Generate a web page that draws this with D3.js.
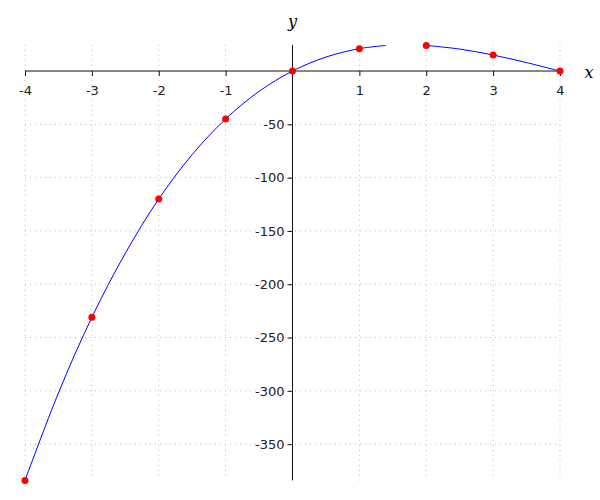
<!DOCTYPE html>
<html><head><meta charset="utf-8">
<script src="https://cdn.jsdelivr.net/npm/d3@7"></script>
<style>body{margin:0;background:#fff}svg{display:block}</style>
</head><body>
<svg id="c" width="600" height="500"></svg>
<script>
const xTicks = [-4,-3,-2,-1,1,2,3,4];
const yTicks = [-350,-300,-250,-200,-150,-100,-50];
const pointX = [-4,-3,-2,-1,0,1,2,3,4];
const pointY = [-384,-231,-120,-45,0,21,24,15,0];
const curve1X = [-4,-3.5,-3,-2.5,-2,-1.5,-1,-0.5,0,0.5,1,1.4];
const curve1Y = [-384,-302,-231,-171,-120,-78.4,-45,-19.1,0,13.1,21,24];
const curve2X = [2,2.5,3,3.5,4];
const curve2Y = [24,20.6,15,7.9,0];

const svg = d3.select("#c");
const x = d3.scaleLinear().domain([-4,4]).range([25,560]);
const y = d3.scaleLinear().domain([-384,24.6]).range([480.4,44.8]);

// grid
const g = svg.append("g");
g.selectAll(".vg").data(xTicks).enter().append("line")
  .attr("x1",d=>x(d)).attr("x2",d=>x(d)).attr("y1",y(24.6)).attr("y2",y(-384))
  .attr("stroke","#bbb").attr("stroke-width",1).attr("stroke-dasharray","1,4");
g.selectAll(".hg").data(yTicks).enter().append("line")
  .attr("x1",x(-4)).attr("x2",x(4)).attr("y1",d=>y(d)).attr("y2",d=>y(d))
  .attr("stroke","#bbb").attr("stroke-width",1).attr("stroke-dasharray","1,4");

// axes
const fmt = d => String(d);
const xAxis = d3.axisBottom(x).tickValues(xTicks).tickSize(5).tickSizeOuter(0).tickPadding(10).tickFormat(fmt);
const ax = svg.append("g").attr("transform",`translate(0,${y(0)})`).call(xAxis);
ax.select(".domain").attr("d",`M${x(-4)},0H${x(4)}`);
const yAxis = d3.axisLeft(y).tickValues(yTicks).tickSize(5).tickSizeOuter(0).tickPadding(3).tickFormat(fmt);
const ay = svg.append("g").attr("transform",`translate(${x(0)},0)`).call(yAxis);
ay.select(".domain").attr("d",`M0,${y(24.6)}V${y(-384)}`);
[ax,ay].forEach(a=>{
  a.selectAll("text").attr("font-family","DejaVu Sans").attr("font-size",13).attr("fill","#222");
  a.selectAll("line,path").attr("stroke","#111");
});

svg.append("text").attr("x",589).attr("y",78).attr("text-anchor","middle")
  .attr("font-family","DejaVu Serif").attr("font-style","italic").attr("font-size",16).text("x");
svg.append("text").attr("x",x(0)).attr("y",27).attr("text-anchor","middle")
  .attr("font-family","DejaVu Serif").attr("font-style","italic").attr("font-size",16).text("y");

const line = d3.line().x(d=>x(d[0])).y(d=>y(d[1])).curve(d3.curveCatmullRom);
svg.append("path").datum(curve1X.map((v,i)=>[v,curve1Y[i]])).attr("d",line)
  .attr("fill","none").attr("stroke","#0000ff").attr("stroke-width",1);
svg.append("path").datum(curve2X.map((v,i)=>[v,curve2Y[i]])).attr("d",line)
  .attr("fill","none").attr("stroke","#0000ff").attr("stroke-width",1);

svg.selectAll(".pt").data(pointX.map((v,i)=>[v,pointY[i]])).enter().append("circle")
  .attr("cx",d=>x(d[0])).attr("cy",d=>y(d[1])).attr("r",3.5).attr("fill","#ff0000");
</script>
</body></html>
